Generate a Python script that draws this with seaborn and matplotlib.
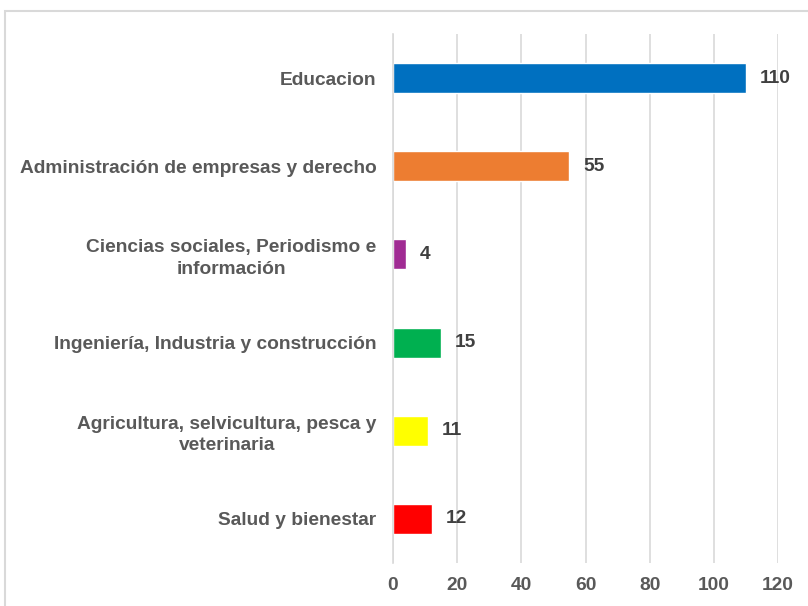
import matplotlib
matplotlib.use("Agg")
import matplotlib.pyplot as plt
import pandas as pd
import seaborn as sns
from matplotlib.patches import Rectangle

categories = [
    "Educacion",
    "Administración de empresas y derecho",
    "Ciencias sociales, Periodismo e\ninformación",
    "Ingeniería, Industria y construcción",
    "Agricultura, selvicultura, pesca y\nveterinaria",
    "Salud y bienestar",
]
values = [110, 55, 4, 15, 11, 12]
colors = ["#0070C0", "#ED7D31", "#A02B93", "#00B050", "#FFFF00", "#FF0000"]
x_ticks = [0, 20, 40, 60, 80, 100, 120]

sns.set_style("white")
plt.rcParams['font.family'] = ['Liberation Sans', 'DejaVu Sans']

df = pd.DataFrame({"area": categories, "valor": values})

fig = plt.figure(figsize=(8.08, 6.06), dpi=100)
ax = fig.add_axes([393 / 808, 1 - 563 / 606, (778 - 393) / 808, (563 - 34) / 606])

sns.barplot(data=df, y="area", x="valor", hue="area", palette=colors,
            orient="h", width=0.34, legend=False, ax=ax, saturation=1)

ax.set_xlim(0, 120)
ax.set_xticks(x_ticks)
ax.set_ylim(len(categories) - 0.5, -0.5)
ax.xaxis.grid(True, color="#D9D9D9", linewidth=1.2)
ax.set_axisbelow(True)
for side in ["top", "right", "bottom"]:
    ax.spines[side].set_visible(False)
ax.spines["left"].set_color("#D9D9D9")
ax.spines["left"].set_linewidth(1.2)
ax.set_xlabel("")
ax.set_ylabel("")
ax.tick_params(axis="both", length=0)
ax.tick_params(axis="y", pad=12)
ax.tick_params(axis="x", pad=10)

for lbl in ax.get_yticklabels():
    lbl.set_fontsize(13.8)
    lbl.set_fontweight("bold")
    lbl.set_color("#595959")
    lbl.set_multialignment("center")
    lbl.set_linespacing(1.35)
for lbl in ax.get_xticklabels():
    lbl.set_fontsize(13.8)
    lbl.set_fontweight("bold")
    lbl.set_color("#595959")

for container in ax.containers:
    ax.bar_label(container, padding=10, fontsize=13.8, fontweight="bold", color="#404040")

# light frame around the chart area
fig.patches.append(Rectangle((5 / 808, -0.05), 1.2, 1 - 11 / 606 + 0.05,
                             transform=fig.transFigure, fill=False,
                             edgecolor="#D9D9D9", linewidth=1.5))

fig.savefig("out.png", dpi=100)
